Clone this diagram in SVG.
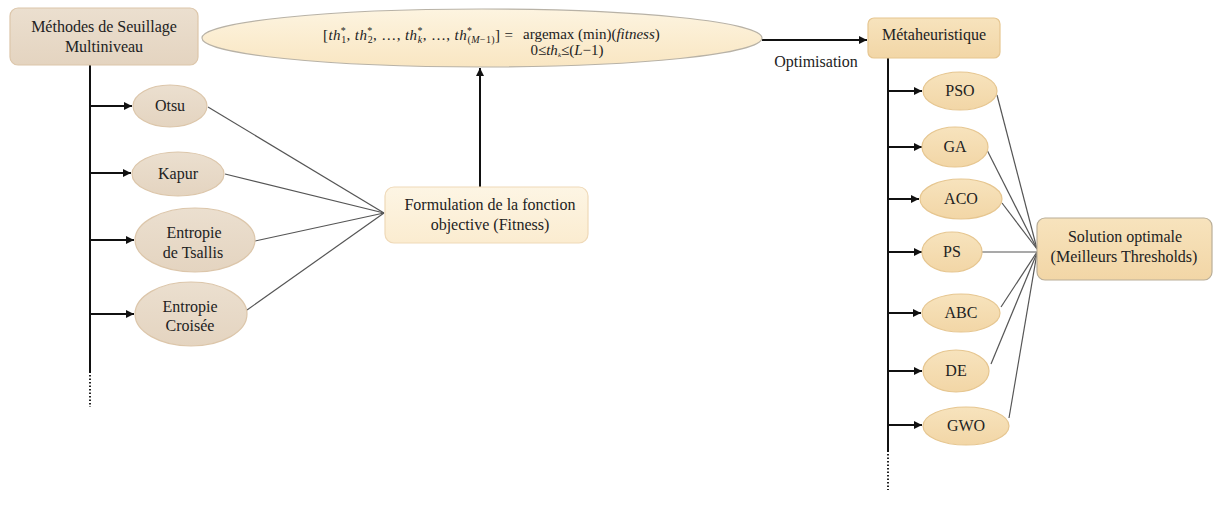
<svg xmlns="http://www.w3.org/2000/svg" width="1219" height="529" viewBox="0 0 1219 529">
  <style>
    .lbl { font-family: "Liberation Serif", "DejaVu Serif", serif; font-size: 16px; fill: #222; text-anchor: middle; }
    .math { font-family: "Liberation Serif", "DejaVu Serif", serif; font-size: 15px; fill: #222; }
    .it { font-style: italic; }
    .trunk { stroke: #111; stroke-width: 2; fill: none; }
    .branch { stroke: #111; stroke-width: 2; fill: none; marker-end: url(#ah); }
    .dots { stroke: #222; stroke-width: 2; stroke-dasharray: 1.5 2; fill: none; }
    .feed { stroke: #555; stroke-width: 1.2; fill: none; }
    .beige { fill: url(#gBeige); stroke: #dcc6aa; stroke-width: 1.2; }
    .tan { fill: url(#gTan); stroke: #e6c690; stroke-width: 1.2; }
    .cream { fill: url(#gCream); stroke: #efd9b8; stroke-width: 1.2; }
  </style>
  <defs>
    <marker id="ah" viewBox="0 0 10 10" refX="10" refY="5" markerWidth="9" markerHeight="8" markerUnits="userSpaceOnUse" orient="auto">
      <path d="M0,0 L10,5 L0,10 z" fill="#111"/>
    </marker>
    <linearGradient id="gBeige" x1="0" y1="0" x2="0" y2="1">
      <stop offset="0" stop-color="#ebdfcf"/>
      <stop offset="1" stop-color="#e4d4c0"/>
    </linearGradient>
    <linearGradient id="gTan" x1="0" y1="0" x2="0" y2="1">
      <stop offset="0" stop-color="#f7e3bd"/>
      <stop offset="1" stop-color="#f2d6a6"/>
    </linearGradient>
    <linearGradient id="gCream" x1="0" y1="0" x2="0" y2="1">
      <stop offset="0" stop-color="#fdf5e4"/>
      <stop offset="1" stop-color="#fbecd0"/>
    </linearGradient>
    <linearGradient id="gEll" x1="0" y1="0" x2="0" y2="1">
      <stop offset="0" stop-color="#fdf4e0"/>
      <stop offset="1" stop-color="#f9e6c2"/>
    </linearGradient>
  </defs>

  <rect width="1219" height="529" fill="#ffffff"/>

  <!-- connectors -->
  <g id="connectors">
    <!-- left trunk and its branches -->
    <line class="trunk" x1="90" y1="65" x2="90" y2="373"/>
    <line class="dots" x1="90" y1="375" x2="90" y2="407"/>
    <line class="branch" x1="89" y1="106" x2="132" y2="106"/>
    <line class="branch" x1="89" y1="173" x2="131" y2="173"/>
    <line class="branch" x1="89" y1="240" x2="134" y2="240"/>
    <line class="branch" x1="89" y1="314" x2="134" y2="314"/>
    <!-- criteria feeding the objective function -->
    <line class="feed" x1="208" y1="107" x2="384" y2="213"/>
    <line class="feed" x1="225" y1="174" x2="384" y2="213"/>
    <line class="feed" x1="255" y1="241" x2="384" y2="213"/>
    <line class="feed" x1="247" y1="310" x2="384" y2="213"/>
    <!-- objective function to the formula -->
    <line class="branch" x1="480" y1="187" x2="480" y2="68"/>
    <!-- optimisation -->
    <line class="branch" x1="762" y1="40" x2="867" y2="40"/>
    <!-- right trunk and its branches -->
    <line class="trunk" x1="888" y1="58" x2="888" y2="452"/>
    <line class="dots" x1="888" y1="454" x2="888" y2="490"/>
    <line class="branch" x1="887" y1="91" x2="922" y2="91"/>
    <line class="branch" x1="887" y1="147" x2="922" y2="147"/>
    <line class="branch" x1="887" y1="199" x2="919" y2="199"/>
    <line class="branch" x1="887" y1="252" x2="922" y2="252"/>
    <line class="branch" x1="887" y1="313" x2="921" y2="313"/>
    <line class="branch" x1="887" y1="371" x2="922" y2="371"/>
    <line class="branch" x1="887" y1="425" x2="922" y2="425"/>
    <!-- metaheuristics to the optimal solution -->
    <line class="feed" x1="997" y1="95" x2="1037" y2="249"/>
    <line class="feed" x1="987" y1="150" x2="1037" y2="249"/>
    <line class="feed" x1="1002" y1="203" x2="1037" y2="249"/>
    <line class="feed" x1="982" y1="252" x2="1037" y2="252"/>
    <line class="feed" x1="1001" y1="307" x2="1037" y2="252"/>
    <line class="feed" x1="991" y1="364" x2="1037" y2="253"/>
    <line class="feed" x1="1009" y1="418" x2="1037" y2="253"/>
  </g>

  <text class="lbl" x="816" y="67">Optimisation</text>

  <g id="seuillage">
    <rect class="beige" x="10" y="8" width="188" height="57" rx="8"/>
    <text class="lbl" x="104" y="32">Méthodes de Seuillage</text>
    <text class="lbl" x="104" y="52">Multiniveau</text>
  </g>

  <g id="otsu">
    <ellipse class="beige" cx="170" cy="106" rx="37" ry="21"/>
    <text class="lbl" x="170" y="111">Otsu</text>
  </g>
  <g id="kapur">
    <ellipse class="beige" cx="178" cy="174" rx="46" ry="22"/>
    <text class="lbl" x="178" y="179">Kapur</text>
  </g>
  <g id="tsallis">
    <ellipse class="beige" cx="195" cy="240" rx="60" ry="32"/>
    <text class="lbl" x="194" y="238">Entropie</text>
    <text class="lbl" x="193" y="258">de Tsallis</text>
  </g>
  <g id="croisee">
    <ellipse class="beige" cx="191" cy="314" rx="56" ry="32"/>
    <text class="lbl" x="190" y="312">Entropie</text>
    <text class="lbl" x="190" y="331">Croisée</text>
  </g>

  <g id="formule">
    <ellipse cx="482" cy="38" rx="280" ry="29" fill="url(#gEll)" stroke="#b8b2a6" stroke-width="1.2"/>
    <text class="math" x="323" y="40" textLength="190" lengthAdjust="spacing">[<tspan class="it">th</tspan><tspan font-size="10" dy="-6">*</tspan><tspan font-size="10" dx="-5" dy="9">1</tspan><tspan dy="-3">, </tspan><tspan class="it">th</tspan><tspan font-size="10" dy="-6">*</tspan><tspan font-size="10" dx="-5" dy="9">2</tspan><tspan dy="-3">, …, </tspan><tspan class="it">th</tspan><tspan font-size="10" dy="-6">*</tspan><tspan font-size="10" class="it" dx="-5" dy="9">k</tspan><tspan dy="-3">, …, </tspan><tspan class="it">th</tspan><tspan font-size="10" dy="-6">*</tspan><tspan font-size="10" dx="-5" dy="9">(<tspan class="it">M</tspan>−1)</tspan><tspan dy="-3">] =</tspan></text>
    <text class="math" x="523" y="39">argemax (min)(<tspan class="it">fitness</tspan>)</text>
    <text class="math" x="567" y="55" font-size="9" text-anchor="middle">0≤<tspan class="it">th</tspan><tspan class="it" font-size="7" dy="2">k</tspan><tspan dy="-2">≤(</tspan><tspan class="it">L</tspan>−1)</text>
  </g>

  <g id="fitness">
    <rect class="cream" x="385" y="187" width="203" height="56" rx="9"/>
    <text class="lbl" x="490" y="210">Formulation de la fonction</text>
    <text class="lbl" x="490" y="230">objective (Fitness)</text>
  </g>

  <g id="metaheuristique">
    <rect class="tan" x="868" y="18" width="132" height="40" rx="6"/>
    <text class="lbl" x="934" y="40">Métaheuristique</text>
  </g>

  <g id="pso">
    <ellipse class="tan" cx="960" cy="91" rx="37" ry="19"/>
    <text class="lbl" x="960" y="96">PSO</text>
  </g>
  <g id="ga">
    <ellipse class="tan" cx="955" cy="147" rx="33" ry="20"/>
    <text class="lbl" x="955" y="152">GA</text>
  </g>
  <g id="aco">
    <ellipse class="tan" cx="961" cy="199" rx="41" ry="20"/>
    <text class="lbl" x="961" y="204">ACO</text>
  </g>
  <g id="ps">
    <ellipse class="tan" cx="952" cy="252" rx="30" ry="20"/>
    <text class="lbl" x="952" y="257">PS</text>
  </g>
  <g id="abc">
    <ellipse class="tan" cx="961" cy="313" rx="39" ry="19"/>
    <text class="lbl" x="961" y="318">ABC</text>
  </g>
  <g id="de">
    <ellipse class="tan" cx="956" cy="371" rx="33" ry="21"/>
    <text class="lbl" x="956" y="376">DE</text>
  </g>
  <g id="gwo">
    <ellipse class="tan" cx="966" cy="426" rx="43" ry="19"/>
    <text class="lbl" x="966" y="431">GWO</text>
  </g>

  <g id="solution">
    <rect class="tan" x="1037" y="218" width="175" height="62" rx="8" style="stroke:#b9ae98"/>
    <text class="lbl" x="1125" y="242">Solution optimale</text>
    <text class="lbl" x="1124" y="262">(Meilleurs Thresholds)</text>
  </g>
</svg>
